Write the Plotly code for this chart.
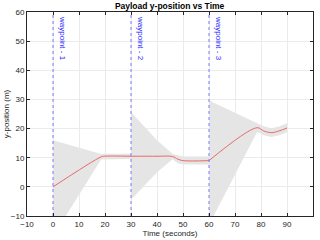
import plotly.graph_objects as go

# Mean trajectory (time in s, y-position in m)
seg_t = [
    [0, 18.5, 19.5, 30],
    [30, 40, 46, 48, 50, 60],
    [60, 78.5, 81, 84, 87, 90],
]
seg_mean = [
    [0.0, 10.3, 10.5, 10.5],
    [10.5, 10.5, 10.4, 9.5, 9.0, 9.0],
    [9.0, 20.3, 19.2, 18.6, 19.2, 20.2],
]
seg_upper = [
    [16.0, 11.3, 11.4, 11.4],
    [25.6, 16.0, 11.3, 10.9, 10.4, 10.4],
    [29.6, 21.9, 20.8, 20.1, 20.7, 21.8],
]
seg_lower = [
    [-17.0, 9.4, 9.6, 9.6],
    [-4.4, 5.0, 9.5, 8.1, 7.7, 7.7],
    [-13.0, 18.8, 17.7, 17.1, 17.7, 18.7],
]

waypoint_t = [0, 30, 60]
waypoint_labels = ["waypoint - 1", "waypoint - 2", "waypoint - 3"]

x_ticks = list(range(-10, 101, 10))
y_ticks = list(range(-10, 61, 10))

FONT = "Liberation Sans, Arial, sans-serif"
fig = go.Figure()

for t, lo, up in zip(seg_t, seg_lower, seg_upper):
    fig.add_trace(go.Scatter(
        x=t + t[::-1], y=up + lo[::-1], fill="toself",
        fillcolor="rgb(229,229,229)", line=dict(width=0),
        mode="lines", hoverinfo="skip", showlegend=False))

for t, m in zip(seg_t, seg_mean):
    fig.add_trace(go.Scatter(
        x=t, y=m, mode="lines", line=dict(color="rgb(235,90,90)", width=0.9),
        line_shape="spline", showlegend=False))

for wt, lab in zip(waypoint_t, waypoint_labels):
    fig.add_trace(go.Scatter(
        x=[wt, wt], y=[-10, 60], mode="lines",
        line=dict(color="rgb(120,120,255)", width=1, dash="dot"),
        showlegend=False))
    fig.add_annotation(
        x=wt, y=60, xref="x", yref="y", text=lab, textangle=90,
        showarrow=False, xanchor="left", yanchor="top", xshift=3, yshift=-2,
        font=dict(family=FONT, size=8, color="rgb(40,40,255)"))

axis_common = dict(
    showgrid=True, gridcolor="rgb(235,235,235)", gridwidth=1,
    showline=True, linecolor="rgb(38,38,38)", linewidth=1, mirror="ticks",
    ticks="inside", ticklen=3, tickcolor="rgb(38,38,38)",
    zeroline=False, automargin=False,
    tickfont=dict(family=FONT, size=8, color="rgb(38,38,38)"),
)

fig.update_xaxes(range=[-10, 100], tickvals=x_ticks,
                 title=dict(text="Time (seconds)", standoff=0,
                            font=dict(family=FONT, size=8, color="rgb(38,38,38)")),
                 **axis_common)
fig.update_yaxes(range=[-10, 60], tickvals=y_ticks,
                 title=dict(text="y-position (m)", standoff=0,
                            font=dict(family=FONT, size=8, color="rgb(38,38,38)")),
                 **axis_common)

fig.update_layout(
    width=320, height=240,
    margin=dict(l=27, r=7, t=12, b=24, autoexpand=False),
    paper_bgcolor="white", plot_bgcolor="white",
    title=dict(text="<b>Payload y-position vs Time</b>", x=0.53, xanchor="center",
               y=0.973, yanchor="middle",
               font=dict(family=FONT, size=8.5, color="black")),
)

fig.write_html(
    "out.html",
    config={"displayModeBar": False},
    post_script="document.body.style.margin='0';document.body.style.padding='0';"
                "document.documentElement.style.overflow='hidden';",
)
